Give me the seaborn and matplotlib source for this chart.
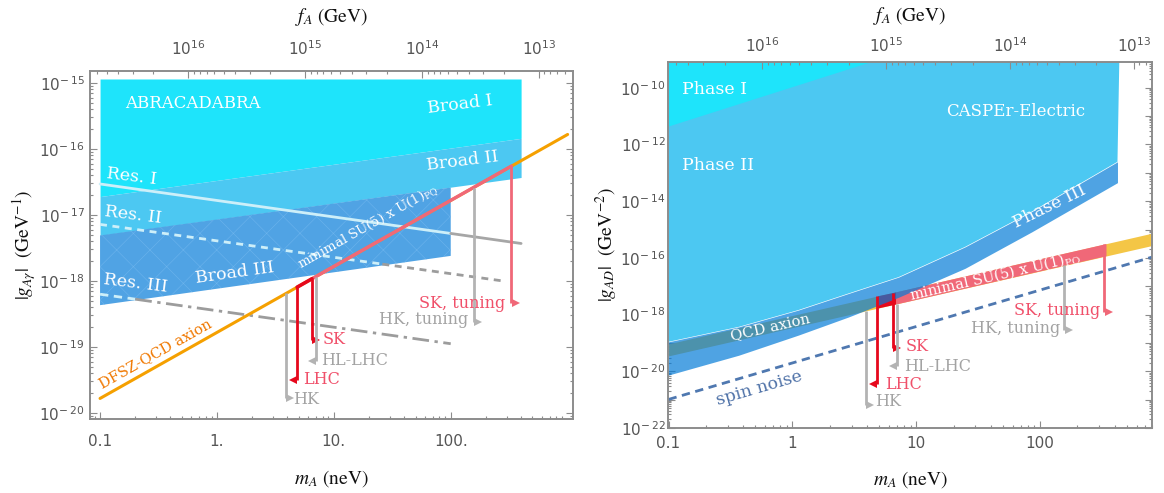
import numpy as np
import matplotlib
matplotlib.use("Agg")
import matplotlib.pyplot as plt
import matplotlib.transforms as mtransforms
from matplotlib.ticker import FixedLocator, FixedFormatter, NullFormatter
import seaborn as sns

# ---------------- left panel: ABRACADABRA, |g_Agamma| vs m_A (neV) ----------------
broad_m = [0.1, 400]
broad_top = [1.15e-15, 1.15e-15]
broad1_lo = [1.9e-17, 1.45e-16]
broad2_lo = [4.9e-18, 3.7e-17]
broad3_m = [0.1, 100]
broad3_hi = [4.9e-18, 2.6e-17]
broad3_lo = [4.3e-19, 2.4e-18]

res1_m = [0.1, 100, 400]
res1_g = [2.95e-17, 5.25e-18, 3.7e-18]
res2_m = [0.1, 26, 280]
res2_g = [7.2e-18, 1.8e-18, 1.0e-18]
res3_m = [0.1, 0.2, 100]
res3_g = [6.3e-19, 5.3e-19, 1.12e-19]

dfsz_m = [0.1, 1000]
dfsz_g = [1.66e-20, 1.66e-16]
lhc_seg_m = [4.85, 6.5]
lhc_seg_g = [8.05e-19, 1.08e-18]
su5_seg_m = [6.5, 330]
su5_seg_g = [1.08e-18, 5.5e-17]

arrow_names = ["HK", "LHC", "SK", "HL-LHC", "HK, tuning", "SK, tuning"]
arrow_m = [3.9, 4.85, 6.5, 7.0, 157, 330]
left_arrow_top = [6.5e-19, 8.05e-19, 1.08e-18, 1.16e-18, 2.6e-17, 5.5e-17]
left_arrow_bot = [1.7e-20, 3.2e-20, 1.29e-19, 6.2e-20, 2.4e-19, 4.6e-19]
left_label_m = [4.5, 5.5, 8.0, 7.8, 140, 295]
left_label_g = [1.62e-20, 3.16e-20, 1.32e-19, 6.2e-20, 2.57e-19, 4.6e-19]

# ---------------- right panel: CASPEr-Electric, |g_AD| vs m_A (neV) ----------------
phase1_m = [0.1, 10]
phase1_lo = [4.5e-12, 2.7e-9]
phase3_m = [0.1, 0.369, 1.12, 2.85, 7.2, 24.8, 85.7, 421]
phase3_hi = [1.1e-19, 3.7e-19, 1.45e-18, 5.6e-18, 2.1e-17, 2.45e-16, 4.3e-15, 2.45e-13]
phase3_lo = [7.4e-21, 3.7e-20, 1.9e-19, 8.3e-19, 4.1e-18, 4.3e-17, 8.3e-16, 4.5e-14]
phase2_edge_m = 440

qcd_m = [0.1, 850]
qcd_hi = [9.3e-20, 7.9e-16]
qcd_lo = [3.5e-20, 2.9e-16]
lhc_band_m = [4.85, 6.8]
lhc_band_hi = [4.6e-18, 6.3e-18]
lhc_band_lo = [1.7e-18, 2.35e-18]
su5_band_m = [6.8, 340]
su5_band_hi = [6.3e-18, 3.2e-16]
su5_band_lo = [2.35e-18, 1.2e-16]

spin_m = [0.1, 850]
spin_g = [1.02e-21, 1.15e-16]

right_arrow_top = [1.35e-18, 4.6e-18, 6.0e-18, 2.4e-18, 5.5e-17, 3.1e-16]
right_arrow_bot = [6.5e-22, 3.5e-21, 6.5e-20, 1.5e-20, 2.8e-19, 1.26e-18]
right_label_m = [4.67, 5.55, 8.15, 8.0, 145, 303]
right_label_g = [8.3e-22, 3.5e-21, 7.8e-20, 1.5e-20, 3.2e-19, 1.35e-18]

# f_A axis: m_A = 5.7 neV * (1e15 GeV / f_A)
fa_const = 5.7e15
fa_ticks = [1e16, 1e15, 1e14, 1e13]
fa_labels = ["$10^{16}$", "$10^{15}$", "$10^{14}$", "$10^{13}$"]

# colours
CYAN = "#1ee4fb"
SKY = "#4cc8f2"
BLUE3 = "#50a3e4"
ORANGE = "#f5a000"
SALMON = "#f06878"
RED = "#e6081c"
GRAY = "#b3b3b3"
LIGHT = "#cdeff9"
YELLOW = "#f4c646"
TXT_RED = "#f0506a"
TXT_GRAY = "#a3a3a3"
SERIF = "DejaVu Serif"

arrow_col = [GRAY, RED, RED, GRAY, GRAY, SALMON]
arrow_txt = [TXT_GRAY, TXT_RED, TXT_RED, TXT_GRAY, TXT_GRAY, TXT_RED]
arrow_mark = [">", "<", ">", "<", ">", ">"]
arrow_ha = ["left", "left", "left", "left", "right", "right"]

sns.set_style("ticks")
plt.rcParams.update({
    "font.family": ["DejaVu Sans"],
    "mathtext.fontset": "dejavusans",
    "hatch.linewidth": 0.4,
    "axes.edgecolor": "#8c8c8c",
    "axes.linewidth": 1.2,
})

fig = plt.figure(figsize=(11.64, 4.93), dpi=100)
fig.patch.set_facecolor("white")
axL = fig.add_axes([0.0773, 0.1501, 0.4149, 0.7059])
axR = fig.add_axes([0.5739, 0.1318, 0.4158, 0.7424])


def draw_arrows(ax, tops, bots, lab_m, lab_g):
    for i, name in enumerate(arrow_names):
        m = arrow_m[i]
        ax.plot([m, m], [tops[i], bots[i]], color=arrow_col[i], lw=2,
                solid_capstyle="butt", zorder=5)
        dx = 3 if arrow_mark[i] == ">" else -3
        off = mtransforms.offset_copy(ax.transData, fig=fig, x=dx, y=0, units="points")
        ax.plot([m], [bots[i]], marker=arrow_mark[i], color=arrow_col[i], ms=6,
                mew=0, transform=off, zorder=5)
        ax.text(lab_m[i], lab_g[i], name, color=arrow_txt[i], ha=arrow_ha[i],
                va="center", fontsize=11.5, family=SERIF, zorder=6)


def style_axes(ax, xlim, ylim, xt, xtl, yt, ytl, ypad, xpad, toppad):
    ax.set_xscale("log")
    ax.set_yscale("log")
    ax.set_xlim(*xlim)
    ax.set_ylim(*ylim)
    ax.xaxis.set_major_locator(FixedLocator(xt))
    ax.xaxis.set_major_formatter(FixedFormatter(xtl))
    xminor = [k * 10.0 ** n for n in range(-2, 4) for k in range(2, 10)]
    ax.xaxis.set_minor_locator(FixedLocator(xminor))
    ax.xaxis.set_minor_formatter(NullFormatter())
    ax.yaxis.set_major_locator(FixedLocator(yt))
    ax.yaxis.set_major_formatter(FixedFormatter(ytl))
    yminor = [k * 10.0 ** n for n in range(-24, -7) for k in range(2, 10)]
    ax.yaxis.set_minor_locator(FixedLocator(yminor))
    ax.yaxis.set_minor_formatter(NullFormatter())
    ax.tick_params(which="both", direction="in", color="#8c8c8c", width=0.8,
                   labelcolor="#555555", labelsize=11, left=True, right=True,
                   bottom=True, top=False)
    ax.tick_params(which="major", length=5)
    ax.tick_params(which="minor", length=2.5)
    ax.tick_params(axis="y", pad=ypad)
    ax.tick_params(axis="x", pad=xpad)

    top = ax.twiny()
    top.set_xscale("log")
    top.set_xlim(*xlim)
    top.xaxis.set_major_locator(FixedLocator([fa_const / f for f in fa_ticks]))
    top.xaxis.set_major_formatter(FixedFormatter(fa_labels))
    fminor = [fa_const / (k * 10.0 ** n) for n in range(11, 17) for k in range(2, 10)]
    top.xaxis.set_minor_locator(FixedLocator(fminor))
    top.xaxis.set_minor_formatter(NullFormatter())
    top.tick_params(which="both", direction="in", color="#8c8c8c", width=0.8,
                    labelcolor="#555555", labelsize=11, pad=toppad)
    top.tick_params(which="major", length=5)
    top.tick_params(which="minor", length=2.5)
    for sp in top.spines.values():
        sp.set_color("#8c8c8c")
        sp.set_linewidth(1.2)
    return top


# ---------------- left panel ----------------
axL.fill_between(broad_m, broad1_lo, broad_top, color=CYAN, lw=0, zorder=1)
axL.fill_between(broad_m, broad2_lo, broad1_lo, color=SKY, lw=0, zorder=1)
axL.fill_between(broad3_m, broad3_lo, broad3_hi, facecolor=BLUE3, edgecolor="#6cb4ec",
                 hatch="x", lw=0, zorder=1)

# resonant sensitivity lines
axL.plot(res1_m[:2], res1_g[:2], color=LIGHT, lw=2, zorder=3)
axL.plot(res1_m[1:], res1_g[1:], color="#a6a6a6", lw=2, zorder=3)
axL.plot(res2_m[:2], res2_g[:2], color=LIGHT, lw=2, dashes=(2.5, 2), zorder=3)
axL.plot(res2_m[1:], res2_g[1:], color="#9c9c9c", lw=2, dashes=(2.5, 2), zorder=3)
axL.plot(res3_m[:2], res3_g[:2], color=LIGHT, lw=2, dashes=(3, 2), zorder=3)
axL.plot(res3_m[1:], res3_g[1:], color="#9c9c9c", lw=2, dashes=(6, 2, 1.2, 2), zorder=3)

sns.lineplot(x=dfsz_m, y=dfsz_g, ax=axL, color=ORANGE, lw=2.2, zorder=4)
sns.lineplot(x=su5_seg_m, y=su5_seg_g, ax=axL, color=SALMON, lw=2.4, zorder=4)
sns.lineplot(x=lhc_seg_m, y=lhc_seg_g, ax=axL, color=RED, lw=2.6, zorder=4)

draw_arrows(axL, left_arrow_top, left_arrow_bot, left_label_m, left_label_g)

txt = dict(color="white", family=SERIF, ha="center", va="center", zorder=6,
           rotation_mode="anchor")
axL.text(0.164, 4.9e-16, "ABRACADABRA", fontsize=12, **{**txt, "ha": "left"})
axL.text(120, 4.7e-16, "Broad I", fontsize=12.5, rotation=7, **txt)
axL.text(126, 6.5e-17, "Broad II", fontsize=12.5, rotation=7, **txt)
axL.text(1.43, 1.32e-18, "Broad III", fontsize=12.5, rotation=8, **txt)
axL.text(0.186, 3.8e-17, "Res. I", fontsize=12.5, rotation=-7, **txt)
axL.text(0.19, 1.0e-17, "Res. II", fontsize=12.5, rotation=-7, **txt)
axL.text(0.2, 9.3e-19, "Res. III", fontsize=12.5, rotation=-7, **txt)
axL.text(0.295, 7.9e-20, "DFSZ-QCD axion", fontsize=10.5, rotation=29.4,
         **{**txt, "color": "#f07800"})
axL.text(19.5, 6.6e-18, r"minimal SU(5) x U(1)$_{\mathregular{PQ}}$", fontsize=9.5,
         rotation=29.4, **txt)

ylab_L = [1e-20, 1e-19, 1e-18, 1e-17, 1e-16, 1e-15]
topL = style_axes(axL, (0.082, 1110), (8.1e-21, 1.52e-15),
                  [0.1, 1, 10, 100], ["0.1", "1.", "10.", "100."],
                  ylab_L, [r"$10^{-\,%d}$" % e for e in range(20, 14, -1)],
                  ypad=4, xpad=11, toppad=9)

# ---------------- right panel ----------------
axR.fill_between(qcd_m, qcd_lo, qcd_hi, color=YELLOW, lw=0, zorder=1)
axR.fill_between(su5_band_m, su5_band_lo, su5_band_hi, color=SALMON, lw=0, zorder=1.2)
axR.fill_between(lhc_band_m, lhc_band_lo, lhc_band_hi, color=RED, lw=0, zorder=1.2)

p2_x = phase3_m + [phase2_edge_m, 0.1]
p2_y = phase3_hi + [1e-8, 1e-8]
axR.fill(p2_x, p2_y, color=SKY, lw=0, zorder=2)
axR.fill_between(phase1_m, phase1_lo, [1e-8, 1e-8], color=CYAN, lw=0, zorder=2.1)
# Phase III is translucent so the QCD band shows through
axR.fill_between(phase3_m, phase3_lo, phase3_hi, color="#057cd8", alpha=0.7, lw=0,
                 zorder=3)

sns.lineplot(x=spin_m, y=spin_g, ax=axR, color="#4f78b0", lw=2, linestyle=(0, (3, 2)),
             zorder=4)

draw_arrows(axR, right_arrow_top, right_arrow_bot, right_label_m, right_label_g)

axR.text(0.129, 8.7e-11, "Phase I", fontsize=12.5, **{**txt, "ha": "left"})
axR.text(0.128, 1.74e-13, "Phase II", fontsize=12.5, **{**txt, "ha": "left"})
axR.text(63, 1.4e-11, "CASPEr-Electric", fontsize=12, **txt)
axR.text(120, 6.3e-15, "Phase III", fontsize=12.5, rotation=26, **txt)
axR.text(0.665, 3.7e-19, "QCD axion", fontsize=10.7, rotation=13, **txt)
axR.text(43, 2.1e-17, r"minimal SU(5) x U(1)$_{\mathregular{PQ}}$", fontsize=10.5,
         rotation=13, **txt)
axR.text(0.535, 2.5e-21, "spin noise", fontsize=12.5, rotation=16.3,
         **{**txt, "color": "#4f72a8"})

ylab_R = [10.0 ** e for e in range(-22, -9)]
ylab_R_txt = [r"$10^{-\,%d}$" % (-e) if e % 2 == 0 else "" for e in range(-22, -9)]
topR = style_axes(axR, (0.099, 800), (1e-22, 8.07e-10),
                  [0.1, 1, 10, 100], ["0.1", "1", "10", "100"],
                  ylab_R, ylab_R_txt, ypad=2, xpad=6, toppad=5)

# axis labels
lab = dict(fontsize=14, family="STIXGeneral", math_fontfamily="stix", color="#111111")
axL.set_xlabel(r"$m_A$ (neV)", **lab)
axL.xaxis.set_label_coords(0.5, -0.14)
topL.set_xlabel(r"$f_A$ (GeV)", **lab)
topL.xaxis.set_label_coords(0.5, 1.14)
axL.set_ylabel(r"$|g_{A\gamma}|$  (GeV$^{-1}$)", **lab)
axL.yaxis.set_label_coords(-0.108, 0.5)

axR.set_xlabel(r"$m_A$ (neV)", **lab)
axR.xaxis.set_label_coords(0.5, -0.112)
topR.set_xlabel(r"$f_A$ (GeV)", **lab)
topR.xaxis.set_label_coords(0.5, 1.112)
axR.set_ylabel(r"$|g_{AD}|$  (GeV$^{-2}$)", **lab)
axR.yaxis.set_label_coords(-0.099, 0.5)

fig.savefig("out.png", dpi=100, facecolor="white")
